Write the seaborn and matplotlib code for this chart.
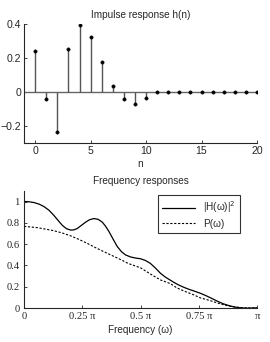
import numpy as np
import pandas as pd
import matplotlib.pyplot as plt
import seaborn as sns

# impulse response h(n)
n_idx = list(range(21))
h_vals = [0.24, -0.044, -0.233, 0.25, 0.395, 0.325, 0.176, 0.036, -0.044, -0.07, -0.036,
          0, 0, 0, 0, 0, 0, 0, 0, 0, 0]

# frequency responses (omega in units of pi)
w_H = [0.0, 0.02, 0.043, 0.065, 0.086, 0.107, 0.128, 0.146, 0.164, 0.182, 0.2, 0.214,
       0.228, 0.246, 0.264, 0.282, 0.30, 0.318, 0.336, 0.35, 0.364, 0.382, 0.40, 0.418,
       0.435, 0.457, 0.478, 0.5, 0.52, 0.542, 0.563, 0.585, 0.606, 0.628, 0.646, 0.664,
       0.685, 0.706, 0.728, 0.756, 0.78, 0.805, 0.83, 0.856, 0.885, 0.91, 0.94, 0.97, 1.0]
H2 = [1.0, 0.998, 0.99, 0.975, 0.952, 0.918, 0.87, 0.823, 0.777, 0.745, 0.732, 0.734,
      0.746, 0.776, 0.806, 0.83, 0.84, 0.833, 0.806, 0.768, 0.72, 0.648, 0.578, 0.53,
      0.5, 0.48, 0.47, 0.463, 0.448, 0.42, 0.378, 0.328, 0.292, 0.262, 0.238, 0.217,
      0.196, 0.178, 0.162, 0.14, 0.118, 0.092, 0.065, 0.04, 0.02, 0.008, 0.001, 0.0, 0.003]
w_P = [0.0, 0.057, 0.128, 0.164, 0.2, 0.235, 0.271, 0.306, 0.342, 0.371, 0.414, 0.446,
       0.478, 0.5, 0.55, 0.585, 0.628, 0.656, 0.692, 0.728, 0.756, 0.8, 0.835, 0.87,
       0.906, 0.95, 1.0]
P = [0.767, 0.755, 0.726, 0.705, 0.678, 0.645, 0.608, 0.568, 0.53, 0.5, 0.456, 0.42,
     0.395, 0.378, 0.31, 0.265, 0.23, 0.19, 0.156, 0.125, 0.097, 0.07, 0.045, 0.024,
     0.01, 0.002, 0.003]

freq_ticks = [0, 0.25, 0.5, 0.75, 1]
freq_labels = ['0', '0.25 π', '0.5 π', '0.75 π', 'π']

sns.set_style('ticks')
plt.rcParams['font.family'] = ['Liberation Sans', 'DejaVu Sans']
plt.rcParams['axes.linewidth'] = 0.8
plt.rcParams['xtick.direction'] = 'in'
plt.rcParams['ytick.direction'] = 'in'
plt.rcParams['xtick.major.size'] = 2.5
plt.rcParams['ytick.major.size'] = 2.5
fs = 7.2      # titles, labels, legend
fs_tick = 7.6

fig = plt.figure(figsize=(2.7, 3.42), dpi=100)

# ---- top: impulse response
ax1 = fig.add_axes([0.089, 0.582, 0.863, 0.348])
df_h = pd.DataFrame({'n': n_idx, 'h': h_vals})
ax1.axhline(0, color='#666666', linewidth=1.0, zorder=1)
ax1.vlines(df_h['n'], 0, df_h['h'], color='#555555', linewidth=1.0, zorder=2)
sns.scatterplot(data=df_h, x='n', y='h', ax=ax1, color='black', s=6, edgecolor='black',
                linewidth=0.3, zorder=3, legend=False)
ax1.set_xlim(-1, 20)
ax1.set_ylim(-0.3, 0.4)
ax1.set_xticks([0, 5, 10, 15, 20])
ax1.set_yticks([-0.2, 0, 0.2, 0.4])
ax1.set_yticklabels(['\u22120.2', '0', '0.2', '0.4'])
ax1.tick_params(labelsize=fs_tick, pad=2, width=0.6)
ax1.set_xlabel('n', fontsize=fs, labelpad=2)
ax1.set_ylabel('')
ax1.set_title('Impulse response h(n)', fontsize=fs, pad=4)
sns.despine(ax=ax1)

# ---- bottom: frequency responses
ax2 = fig.add_axes([0.089, 0.099, 0.863, 0.343])
df_H = pd.DataFrame({'w': np.pi * np.array(w_H), 'v': H2})
df_P = pd.DataFrame({'w': np.pi * np.array(w_P), 'v': P})
sns.lineplot(data=df_H, x='w', y='v', ax=ax2, color='black', linewidth=0.9,
             label=r'|H(ω)|$^2$')
sns.lineplot(data=df_P, x='w', y='v', ax=ax2, color='black', linewidth=0.8,
             linestyle=(0, (2, 1.5)), label='P(ω)')
ax2.set_xlim(0, np.pi)
ax2.set_ylim(0, 1.1)
ax2.set_xticks(np.pi * np.array(freq_ticks))
ax2.set_xticklabels(freq_labels, family='Liberation Serif')
ax2.set_yticks([0, 0.2, 0.4, 0.6, 0.8, 1])
ax2.set_yticklabels(['0', '0.2', '0.4', '0.6', '0.8', '1'], family='Liberation Serif')
ax2.tick_params(labelsize=fs_tick, pad=3, width=0.6)
ax2.set_xlabel('Frequency (ω)', fontsize=fs, labelpad=3)
ax2.set_ylabel('')
ax2.set_title('Frequency responses', fontsize=fs, pad=5)
leg = ax2.legend(loc='upper right', fontsize=fs, frameon=True, fancybox=False,
                 handlelength=3.3, borderpad=0.45, labelspacing=0.35,
                 borderaxespad=0, bbox_to_anchor=(0.928, 0.965))
leg.get_frame().set_edgecolor('black')
leg.get_frame().set_linewidth(0.8)
sns.despine(ax=ax2)

fig.savefig('out.png', dpi=100)
